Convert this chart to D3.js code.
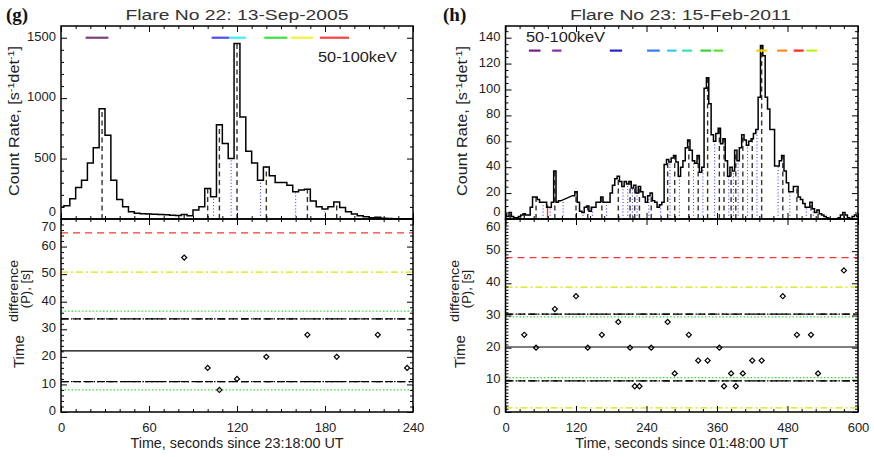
<!DOCTYPE html>
<html><head><meta charset="utf-8">
<script src="https://cdn.jsdelivr.net/npm/d3@7"></script>
<style>
body{margin:0;background:#fff}
svg{display:block}
text{font-family:"Liberation Sans",Arial,sans-serif;fill:#222}
text.serif{font-family:"Liberation Serif","Times New Roman",serif;font-weight:bold;fill:#111}
</style>
</head><body>
<svg id="c" width="874" height="457"></svg>
<script>
// ---------------- DATA ----------------
const BIN = 4; // seconds per bin, bins centred on multiples of 4 s

// Panel (g): Flare 22, 50-100 keV count rate (bin i centred at i*4 s)
const leftCounts = [100,110,167,261,321,464,590,912,692,321,162,101,60,47,44,42,40,38,35,32,
  28,38,27,74,101,253,184,780,624,500,1452,843,560,464,321,431,357,302,302,280,
  225,240,246,148,101,82,101,140,96,60,41,27,19,11,14,7,5,3,2,1,0];
const leftPeaks   = [28,84,100,108,120,140,168,188,216];
const leftValleys = [76,88,104,116,136,160,180,212,232];
const leftPeriodT = [84,100,108,120,140,168,188,216,236];
const leftPeriodP = [56,16,8,12,20,28,20,28,16];
const leftLevels     = [65.0,50.7,36.6,33.8,22.2,11.0,8.0];
const leftLevelKinds = ['red','yellow','green','mixed','solid','mixed','green'];
const leftBarStart = [16.8,102.7,114.5,138.6,156.6,176.6];
const leftBarEnd   = [32.3,114.5,126.1,154.3,172.0,196.4];
const leftBarColor = ['#7b3f7b','#4b4bff','#3ff0f0','#3de03d','#f2f23a','#ff4040'];
const leftBarLevel = 1500;

// Panel (h): Flare 23 (null = no data, joined by a straight line)
const rightCounts = [3,2,5,2,1,1,2,3,4,3,3,9,17,17,15,13,13,13,9,9,
  13,37,13,14,null,null,null,null,null,18,21,13,6,5,9,10,6,9,9,13,
  13,17,13,13,13,20,26,31,33,29,25,29,27,29,24,26,20,25,21,17,
  13,18,20,14,13,9,11,13,42,46,44,47,49,44,33,40,45,55,61,53,
  45,43,49,36,40,101,109,89,65,60,66,70,58,62,45,33,40,37,53,45,
  55,65,61,57,60,62,66,69,94,134,126,94,85,69,69,41,41,45,49,37,
  28,21,21,25,25,17,15,12,9,9,13,8,5,7,4,3,2,1,0,0,
  0,0,1,3,5,3,1,0,2,3,2];
const rightPeaks   = [8,32,52,84,120,140,164,192,212,220,228,248,276,288,312,328,344,364,372,384,392,404,420,436,472,496,520,532,576];
const rightValleys = [20,40,64,76,98,132,148,172,200,208,216,224,244,264,280,296,320,336,356,380,388,396,412,428,464,484,512,524];
const rightPeriodT = [32,52,84,120,140,164,192,212,220,228,248,276,288,312,328,344,364,372,384,392,404,420,436,472,496,520,532,576];
const rightPeriodP = [24,20,32,36,20,24,28,20,8,8,20,28,12,24,16,16,20,8,12,8,12,16,16,36,24,24,12,44];
const rightLevels     = [48.0,38.8,30.4,29.6,20.2,10.7,9.7,1.3];
const rightLevelKinds = ['red','yellow','mixed','green','solid','green','mixed','yellow'];
const rightBarStart = [39.8,79.4,177.5,241.0,275.0,300.6,331.8,354.4,427.1,462.2,490.6,512.1];
const rightBarEnd   = [59.6,95.3,198.5,262.6,291.0,317.6,349.9,370.3,445.2,479.2,507.6,530.3];
const rightBarColor = ['#7a1f80','#8a2aa5','#2525c8','#3a7af2','#34c8f0','#36e0c0','#36d436','#5ee030','#f0cc00','#ff8a1a','#ff2424','#c4f020'];
const rightBarLevel = 130;
const rightMarkT = 71.5, rightMarkV = 11;

// Tick labels
const leftXTicks = [0,60,120,180,240];
const rightXTicks = [0,120,240,360,480,600];
const leftTopYTicks = [0,500,1000,1500];
const rightTopYTicks = [0,20,40,60,80,100,120,140];
const leftBotYTicks = [0,10,20,30,40,50,60,70];
const rightBotYTicks = [0,10,20,30,40,50,60];

// ---------------- DRAW ----------------
const svg = d3.select('#c');
const TOP = 26, MID = 219, BOT = 412;

function valueAt(vals, t) {
  const i = Math.round(t / BIN);
  if (vals[i] !== null && vals[i] !== undefined) return vals[i];
  let a = i, b = i;
  while (a > 0 && vals[a] === null) a--;
  while (b < vals.length - 1 && vals[b] === null) b++;
  const ta = a * BIN + BIN / 2, tb = b * BIN - BIN / 2;
  return vals[a] + (vals[b] - vals[a]) * (t - ta) / (tb - ta);
}

function stepPath(vals, x, y, tMax) {
  let d = '', pen = false;
  vals.forEach((v, i) => {
    if (v === null) return;
    const c = i * BIN;
    const a = Math.max(0, c - BIN / 2), b = Math.min(tMax, c + BIN / 2);
    d += (pen ? 'L' : 'M') + x(a) + ',' + y(v) + 'H' + x(b);
    pen = true;
  });
  return d;
}

function styleAxis(g) {
  g.select('.domain').remove();
  g.selectAll('.tick line').attr('stroke', '#000').attr('stroke-width', 1);
  g.selectAll('.tick text').attr('font-size', 13).attr('fill', '#222');
}

function minorVals(domain, step, majors) {
  return d3.range(domain[0], domain[1] + 1e-9, step).filter(v => !majors.some(m => Math.abs(m - v) < 1e-9));
}

function box(g, x, y, xMaj, xMinStep, yMaj, yMinStep, xLabels, y0, y1, isTop) {
  const [xa, xb] = x.range();
  const xMin = minorVals(x.domain(), xMinStep, xMaj);
  const yMin = minorVals(y.domain(), yMinStep, yMaj);
  g.append('g').attr('transform', `translate(0,${y0})`)
    .call(d3.axisBottom(x).tickValues(xMaj).tickSizeInner(-6).tickSizeOuter(0).tickPadding(11)
      .tickFormat(xLabels ? d3.format('d') : ''))
    .call(styleAxis);
  g.append('g').attr('transform', `translate(0,${y0})`)
    .call(d3.axisBottom(x).tickValues(xMin).tickSizeInner(-3).tickSizeOuter(0).tickFormat(''))
    .call(styleAxis);
  g.append('g').attr('transform', `translate(0,${y1})`)
    .call(d3.axisTop(x).tickValues(xMaj).tickSizeInner(-6).tickSizeOuter(0).tickFormat(''))
    .call(styleAxis);
  g.append('g').attr('transform', `translate(0,${y1})`)
    .call(d3.axisTop(x).tickValues(xMin).tickSizeInner(-3).tickSizeOuter(0).tickFormat(''))
    .call(styleAxis);
  const la = g.append('g').attr('transform', `translate(${xa},0)`)
    .call(d3.axisLeft(y).tickValues(yMaj).tickSizeInner(-6).tickSizeOuter(0).tickPadding(5).tickFormat(d3.format('d')))
    .call(styleAxis);
  const dom = y.domain();
  la.selectAll('.tick text').attr('dy', d => {
    if (isTop && d === dom[0]) return '-0.25em';
    if (!isTop && d === dom[1]) return '0.85em';
    return '0.2em';
  });
  g.append('g').attr('transform', `translate(${xa},0)`)
    .call(d3.axisLeft(y).tickValues(yMin).tickSizeInner(-3).tickSizeOuter(0).tickFormat(''))
    .call(styleAxis);
  g.append('g').attr('transform', `translate(${xb},0)`)
    .call(d3.axisRight(y).tickValues(yMaj).tickSizeInner(-6).tickSizeOuter(0).tickFormat(''))
    .call(styleAxis);
  g.append('g').attr('transform', `translate(${xb},0)`)
    .call(d3.axisRight(y).tickValues(yMin).tickSizeInner(-3).tickSizeOuter(0).tickFormat(''))
    .call(styleAxis);
  g.append('rect').attr('x', xa).attr('y', y1).attr('width', xb - xa).attr('height', y0 - y1)
    .attr('fill', 'none').attr('stroke', '#000').attr('stroke-width', 1.5);
}

const levelStyle = {
  red:    [{c:'#ff3535', d:'7,5'}],
  yellow: [{c:'#d6e600', d:'7,3,2,3'}],
  green:  [{c:'#3ddc3d', d:'1.5,2'}],
  solid:  [{c:'#000', d:null}],
  mixed:  [{c:'#000', d:'8,4'}, {c:'#000', d:'7,3,1.5,2.5,1.5,2.5,1.5,3'}]
};

function panel(o) {
  const x = d3.scaleLinear().domain([0, o.tMax]).range(o.xr);
  const yT = d3.scaleLinear().domain([0, o.topMax]).range([MID, TOP]);
  const yB = d3.scaleLinear().domain([0, o.botMax]).range([BOT, MID]);
  const g = svg.append('g');

  g.append('g').selectAll('line').data(o.valleys).join('line')
    .attr('x1', d => x(d)).attr('x2', d => x(d))
    .attr('y1', yT(0)).attr('y2', d => yT(valueAt(o.counts, d)))
    .attr('stroke', '#3a3aff').attr('stroke-width', 1.1).attr('stroke-dasharray', '1,2.2');
  g.append('g').selectAll('line').data(o.peaks).join('line')
    .attr('x1', d => x(d)).attr('x2', d => x(d))
    .attr('y1', yT(0)).attr('y2', d => yT(valueAt(o.counts, d)))
    .attr('stroke', '#333').attr('stroke-width', 1.4).attr('stroke-dasharray', '5,3.5');
  if (o.mark) {
    g.append('line').attr('x1', x(o.mark[0])).attr('x2', x(o.mark[0]))
      .attr('y1', yT(0)).attr('y2', yT(o.mark[1])).attr('stroke', '#ff2020').attr('stroke-width', 1.3);
  }
  g.append('path').attr('d', stepPath(o.counts, x, yT, o.tMax))
    .attr('fill', 'none').attr('stroke', '#000').attr('stroke-width', 1.5);
  g.append('g').selectAll('line').data(o.barStart).join('line')
    .attr('x1', d => x(d)).attr('x2', (d, i) => x(o.barEnd[i]))
    .attr('y1', yT(o.barLevel)).attr('y2', yT(o.barLevel))
    .attr('stroke', (d, i) => o.barColor[i]).attr('stroke-width', 2.2);
  box(g, x, yT, o.xTicks, o.xMinor, o.topTicks, o.topMinor, false, MID, TOP, true);

  o.levels.forEach((lv, i) => {
    levelStyle[o.levelKinds[i]].forEach(s => {
      g.append('line').attr('x1', o.xr[0]).attr('x2', o.xr[1])
        .attr('y1', yB(lv)).attr('y2', yB(lv))
        .attr('stroke', s.c).attr('stroke-width', 1.2)
        .attr('stroke-dasharray', s.d);
    });
  });
  g.append('g').selectAll('path').data(o.perT).join('path')
    .attr('d', d3.symbol(d3.symbolSquare, 13)())
    .attr('transform', (d, i) => `translate(${x(d)},${yB(o.perP[i])}) rotate(45)`)
    .attr('fill', 'none').attr('stroke', '#000').attr('stroke-width', 1.2);
  box(g, x, yB, o.xTicks, o.xMinor, o.botTicks, o.botMinor, true, BOT, MID, false);

  g.append('text').attr('x', o.titleX).attr('y', 19.5).attr('text-anchor', 'middle')
    .attr('font-size', 15.5).style('fill', '#333').attr('textLength', o.titleW)
    .attr('lengthAdjust', 'spacingAndGlyphs').text(o.title);
  g.append('text').attr('class', 'serif').attr('x', o.letterX).attr('y', 21).attr('font-size', 19)
    .text(o.letter);
  g.append('text').attr('x', o.keVX).attr('y', o.keVY).attr('font-size', 14)
    .attr('textLength', 79).attr('lengthAdjust', 'spacingAndGlyphs').text('50-100keV');
  g.append('text').attr('x', (o.xr[0] + o.xr[1]) / 2).attr('y', 448).attr('text-anchor', 'middle')
    .attr('font-size', 14).attr('textLength', 213).attr('lengthAdjust', 'spacingAndGlyphs').text(o.xTitle);
  const cr = g.append('text').attr('transform', `translate(${o.crX},121) rotate(-90)`)
    .attr('text-anchor', 'middle').attr('font-size', 14.5)
    .attr('textLength', 150).attr('lengthAdjust', 'spacingAndGlyphs');
  cr.append('tspan').text('Count Rate, [s');
  cr.append('tspan').attr('dy', -5).attr('font-size', 9.5).text('-1');
  cr.append('tspan').attr('dy', 5).text('det');
  cr.append('tspan').attr('dy', -5).attr('font-size', 9.5).text('-1');
  cr.append('tspan').attr('dy', 5).text(']');
  g.append('text').attr('transform', `translate(${o.tdX},368) rotate(-90)`)
    .attr('font-size', 15).text('Time');
  g.append('text').attr('transform', `translate(${o.tdX - 6},291) rotate(-90)`)
    .attr('text-anchor', 'middle').attr('font-size', 13)
    .attr('textLength', 62).attr('lengthAdjust', 'spacingAndGlyphs').text('difference');
  g.append('text').attr('transform', `translate(${o.tdX + 5.5},289) rotate(-90)`)
    .attr('text-anchor', 'middle').attr('font-size', 13).text('(P), [s]');
}

panel({
  tMax: 240, xr: [61, 413], topMax: 1597, botMax: 70,
  counts: leftCounts, peaks: leftPeaks, valleys: leftValleys,
  perT: leftPeriodT, perP: leftPeriodP, levels: leftLevels, levelKinds: leftLevelKinds,
  barStart: leftBarStart, barEnd: leftBarEnd, barColor: leftBarColor, barLevel: leftBarLevel,
  xTicks: leftXTicks, xMinor: 10, topTicks: leftTopYTicks, topMinor: 100,
  botTicks: leftBotYTicks, botMinor: 2,
  title: 'Flare No 22: 13-Sep-2005', titleX: 237, titleW: 223,
  letter: '(g)', letterX: 6, keVX: 318, keVY: 61.5,
  xTitle: 'Time, seconds since 23:18:00 UT', crX: 18.5, tdX: 24
});
panel({
  tMax: 600, xr: [505.5, 858], topMax: 149, botMax: 60,
  counts: rightCounts, peaks: rightPeaks, valleys: rightValleys,
  perT: rightPeriodT, perP: rightPeriodP, levels: rightLevels, levelKinds: rightLevelKinds,
  barStart: rightBarStart, barEnd: rightBarEnd, barColor: rightBarColor, barLevel: rightBarLevel,
  mark: [rightMarkT, rightMarkV],
  xTicks: rightXTicks, xMinor: 24, topTicks: rightTopYTicks, topMinor: 5,
  botTicks: rightBotYTicks, botMinor: 1,
  title: 'Flare No 23: 15-Feb-2011', titleX: 680.5, titleW: 221,
  letter: '(h)', letterX: 443, keVX: 526, keVY: 41.5,
  xTitle: 'Time, seconds since 01:48:00 UT', crX: 467, tdX: 465
});
</script>
</body></html>
